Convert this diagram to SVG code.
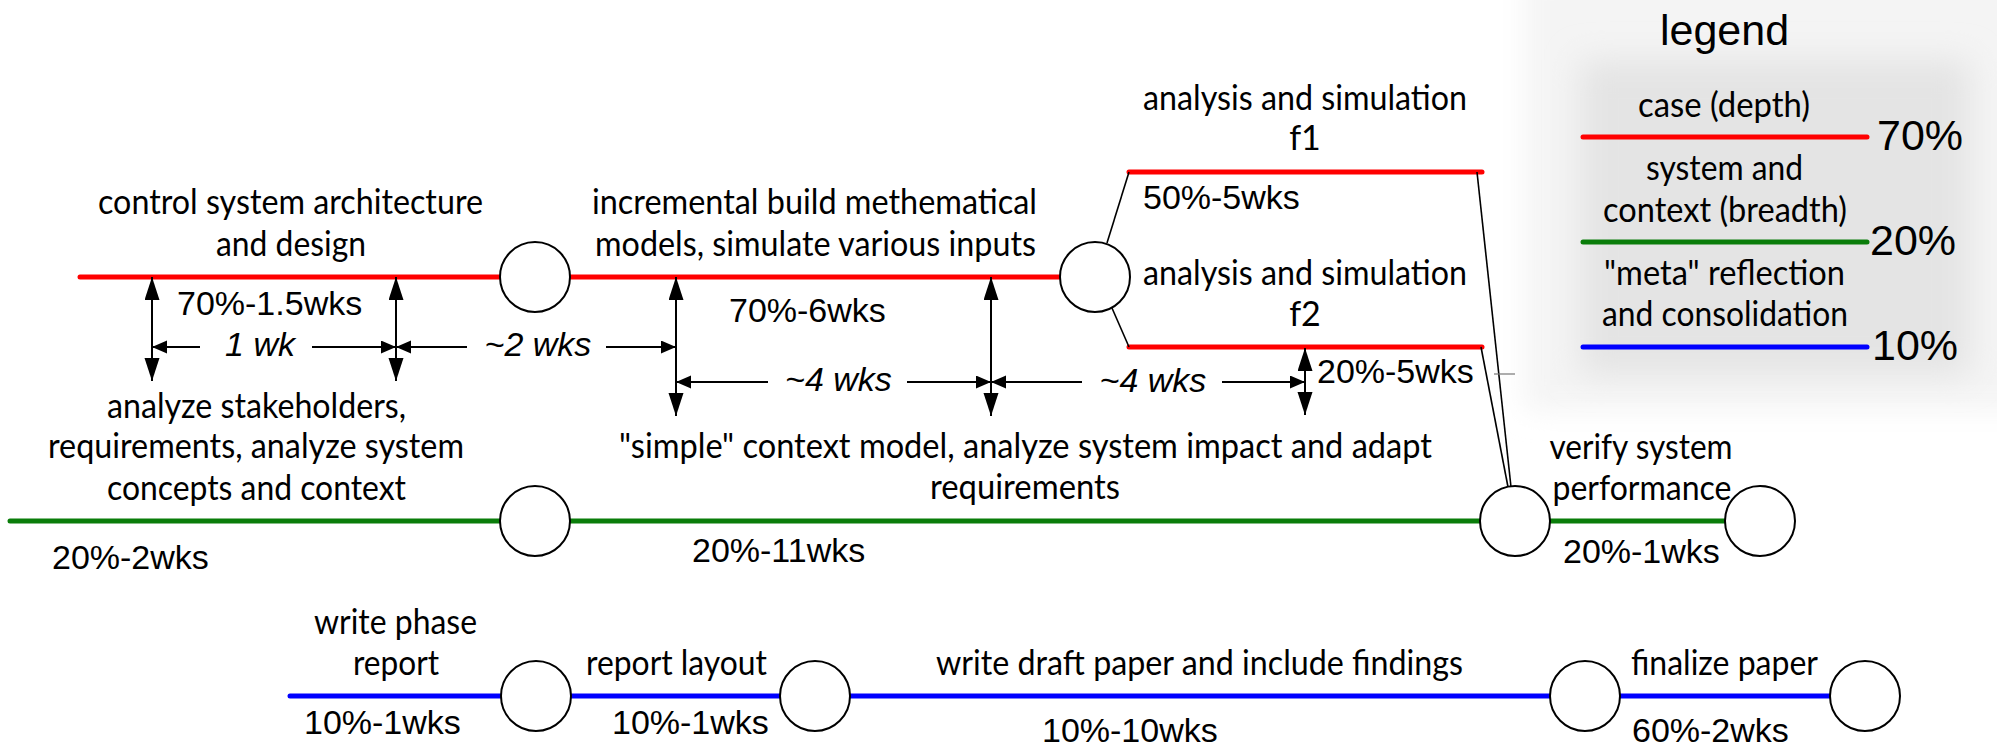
<svg xmlns="http://www.w3.org/2000/svg" width="1997" height="747" viewBox="0 0 1997 747">
<style>
.t{font-family:Lato,"Open Sans","Liberation Sans",sans-serif;font-size:34px;text-anchor:middle;fill:#000}
.a{font-family:"Liberation Sans",Arial,sans-serif;font-size:34px;fill:#000}
.i{font-family:"Liberation Sans",Arial,sans-serif;font-size:34px;font-style:italic;text-anchor:middle;fill:#000}
.big{font-family:"Liberation Sans",Arial,sans-serif;font-size:43px;fill:#000}
.red{stroke:#ff0000;stroke-width:5;stroke-linecap:round;fill:none}
.green{stroke:#0a7d0a;stroke-width:5;stroke-linecap:round;fill:none}
.blue{stroke:#0000ff;stroke-width:5;stroke-linecap:round;fill:none}
.thin{stroke:#000;stroke-width:1.6;fill:none}
.dim{stroke:#000;stroke-width:2;fill:none}
.vd{stroke:#000;stroke-width:2;fill:none;marker-start:url(#hv);marker-end:url(#hv)}
.hd{stroke:#000;stroke-width:2;fill:none;marker-end:url(#hh)}
.node{fill:#fff;stroke:#000;stroke-width:2}
</style>
<defs>
<marker id="hv" markerUnits="userSpaceOnUse" markerWidth="24" markerHeight="16" refX="23" refY="7.5" orient="auto-start-reverse">
<path d="M0,0 L23,7.5 L0,15 z" fill="#000"/>
</marker>
<marker id="hh" markerUnits="userSpaceOnUse" markerWidth="16" markerHeight="14" refX="15" refY="6.5" orient="auto">
<path d="M0,0 L15,6.5 L0,13 z" fill="#000"/>
</marker>
<filter id="blur1" x="-30%" y="-30%" width="160%" height="160%"><feGaussianBlur stdDeviation="14"/></filter>
<filter id="blur2" x="-30%" y="-30%" width="160%" height="160%"><feGaussianBlur stdDeviation="16"/></filter>
</defs>
<rect width="1997" height="747" fill="#fff"/>

<g id="legend">
<rect x="1525" y="-30" width="520" height="440" fill="#f4f4f4" filter="url(#blur1)"/>
<rect x="1580" y="60" width="390" height="315" fill="#e4e4e4" filter="url(#blur2)"/>
<text class="big" x="1724.5" y="45" text-anchor="middle" font-size="44">legend</text>
<text class="t" x="1724" y="117" textLength="172" lengthAdjust="spacingAndGlyphs">case (depth)</text>
<line class="red" x1="1583" y1="137" x2="1867" y2="137"/>
<text class="big" x="1877" y="150">70%</text>
<text class="t" x="1724.5" y="180" textLength="157" lengthAdjust="spacingAndGlyphs">system and</text>
<text class="t" x="1725" y="222" textLength="244" lengthAdjust="spacingAndGlyphs">context (breadth)</text>
<line class="green" x1="1583" y1="242" x2="1867" y2="242"/>
<text class="big" x="1870" y="255">20%</text>
<text class="t" x="1724.5" y="285" textLength="241" lengthAdjust="spacingAndGlyphs">"meta" reflection</text>
<text class="t" x="1725" y="326" textLength="246" lengthAdjust="spacingAndGlyphs">and consolidation</text>
<line class="blue" x1="1583" y1="347" x2="1867" y2="347"/>
<text class="big" x="1872" y="360">10%</text>
</g>

<g id="connectors">
<line class="red" x1="80" y1="277" x2="1095" y2="277"/>
<line class="red" x1="1129" y1="172" x2="1482" y2="172"/>
<line class="red" x1="1129" y1="347" x2="1482" y2="347"/>
<line class="green" x1="10" y1="521" x2="1760" y2="521"/>
<line class="blue" x1="290" y1="696" x2="1865" y2="696"/>
<line class="thin" x1="1107" y1="243" x2="1129" y2="172"/>
<line class="thin" x1="1112" y1="308" x2="1129" y2="347"/>
<line class="thin" x1="1477" y1="172" x2="1511" y2="487"/>
<line class="thin" x1="1481" y1="347" x2="1508" y2="487"/>
<line x1="1494" y1="374" x2="1515" y2="374" stroke="#777" stroke-width="1.2"/>
<line class="vd" x1="152" y1="277" x2="152" y2="381"/>
<line class="vd" x1="396" y1="277" x2="396" y2="381"/>
<line class="vd" x1="676" y1="277" x2="676" y2="416"/>
<line class="vd" x1="991" y1="277" x2="991" y2="416"/>
<line class="vd" x1="1305" y1="348" x2="1305" y2="415"/>
<line class="hd" x1="200" y1="347" x2="152" y2="347"/>
<line class="hd" x1="312" y1="347" x2="396" y2="347"/>
<line class="hd" x1="467" y1="347" x2="396" y2="347"/>
<line class="hd" x1="606" y1="347" x2="676" y2="347"/>
<line class="hd" x1="768" y1="382" x2="676" y2="382"/>
<line class="hd" x1="907" y1="382" x2="991" y2="382"/>
<line class="hd" x1="1082" y1="382" x2="991" y2="382"/>
<line class="hd" x1="1222" y1="382" x2="1305" y2="382"/>
</g>

<g id="node-r1"><circle class="node" cx="535" cy="277" r="35"/></g>
<g id="node-r2"><circle class="node" cx="1095" cy="277" r="35"/></g>
<g id="node-g1"><circle class="node" cx="535" cy="521" r="35"/></g>
<g id="node-g2"><circle class="node" cx="1515" cy="521" r="35"/></g>
<g id="node-g3"><circle class="node" cx="1760" cy="521" r="35"/></g>
<g id="node-b1"><circle class="node" cx="536" cy="696" r="35"/></g>
<g id="node-b2"><circle class="node" cx="815" cy="696" r="35"/></g>
<g id="node-b3"><circle class="node" cx="1585" cy="696" r="35"/></g>
<g id="node-b4"><circle class="node" cx="1865" cy="696" r="35"/></g>

<g id="labels">
<text class="t" x="290.5" y="214" textLength="385" lengthAdjust="spacingAndGlyphs">control system architecture</text>
<text class="t" x="291" y="256" textLength="150" lengthAdjust="spacingAndGlyphs">and design</text>
<text class="a" x="177" y="315">70%-1.5wks</text>
<text class="i" x="260" y="356">1 wk</text>
<text class="i" x="538" y="356">~2 wks</text>
<text class="t" x="814.5" y="214" textLength="445" lengthAdjust="spacingAndGlyphs">incremental build methematical</text>
<text class="t" x="815.5" y="256" textLength="441" lengthAdjust="spacingAndGlyphs">models, simulate various inputs</text>
<text class="a" x="729" y="322">70%-6wks</text>
<text class="i" x="838.5" y="391">~4 wks</text>
<text class="i" x="1153" y="392">~4 wks</text>
<text class="t" x="1305" y="110" textLength="324" lengthAdjust="spacingAndGlyphs">analysis and simulation</text>
<text class="t" x="1305" y="150">f1</text>
<text class="a" x="1143" y="209">50%-5wks</text>
<text class="t" x="1305" y="285" textLength="324" lengthAdjust="spacingAndGlyphs">analysis and simulation</text>
<text class="t" x="1305" y="326">f2</text>
<text class="a" x="1317" y="383">20%-5wks</text>
<text class="t" x="256.5" y="418" textLength="299" lengthAdjust="spacingAndGlyphs">analyze stakeholders,</text>
<text class="t" x="256" y="458" textLength="416" lengthAdjust="spacingAndGlyphs">requirements, analyze system</text>
<text class="t" x="256.5" y="500" textLength="299" lengthAdjust="spacingAndGlyphs">concepts and context</text>
<text class="a" x="52" y="569">20%-2wks</text>
<text class="t" x="1025.5" y="458" textLength="813" lengthAdjust="spacingAndGlyphs">"simple" context model, analyze system impact and adapt</text>
<text class="t" x="1025" y="499" textLength="190" lengthAdjust="spacingAndGlyphs">requirements</text>
<text class="a" x="692" y="562">20%-11wks</text>
<text class="t" x="1641" y="459" textLength="183" lengthAdjust="spacingAndGlyphs">verify system</text>
<text class="t" x="1642" y="500" textLength="179" lengthAdjust="spacingAndGlyphs">performance</text>
<text class="a" x="1563" y="563">20%-1wks</text>
<text class="t" x="395.5" y="634" textLength="163" lengthAdjust="spacingAndGlyphs">write phase</text>
<text class="t" x="396" y="675" textLength="86" lengthAdjust="spacingAndGlyphs">report</text>
<text class="a" x="304" y="734">10%-1wks</text>
<text class="t" x="676.5" y="675" textLength="181" lengthAdjust="spacingAndGlyphs">report layout</text>
<text class="a" x="612" y="734">10%-1wks</text>
<text class="t" x="1199.5" y="675" textLength="527" lengthAdjust="spacingAndGlyphs">write draft paper and include findings</text>
<text class="a" x="1042" y="742">10%-10wks</text>
<text class="t" x="1724.5" y="675" textLength="187" lengthAdjust="spacingAndGlyphs">finalize paper</text>
<text class="a" x="1632" y="742">60%-2wks</text>
</g>
</svg>
